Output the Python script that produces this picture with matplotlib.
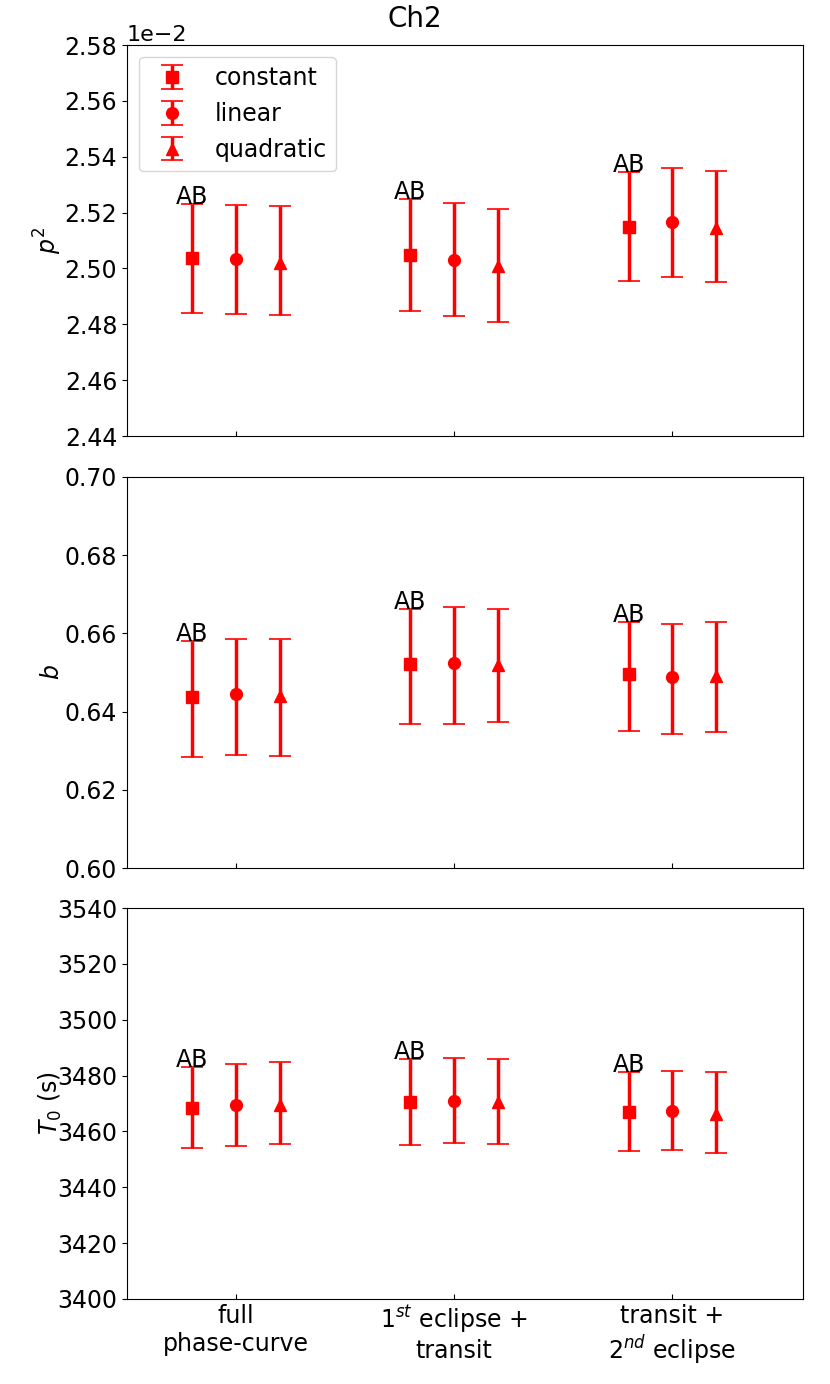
import numpy as np
import matplotlib
matplotlib.use("Agg")
import matplotlib.pyplot as plt

# ---- data ----
groups = ["full\nphase-curve", "1$^{st}$ eclipse +\ntransit", "transit +\n2$^{nd}$ eclipse"]
models = ["constant", "linear", "quadratic"]
markers = ["s", "o", "^"]
offsets = [-0.2, 0.0, 0.2]

p2_constant = [0.025036, 0.025048, 0.025150]
p2_constant_lo = [0.0001948, 0.0002005, 0.0001933]
p2_constant_hi = [0.0001933, 0.0002005, 0.0001969]
p2_linear = [0.025033, 0.025030, 0.025166]
p2_linear_lo = [0.0001948, 0.0002005, 0.0001980]
p2_linear_hi = [0.0001944, 0.0002051, 0.0001944]
p2_quadratic = [0.025021, 0.025009, 0.025145]
p2_quadratic_lo = [0.0001883, 0.0002005, 0.0001933]
p2_quadratic_hi = [0.0002019, 0.0002041, 0.0002041]

b_constant = [0.6437, 0.6522, 0.6497]
b_constant_lo = [0.01538, 0.01538, 0.01472]
b_constant_hi = [0.01436, 0.01410, 0.01323]
b_linear = [0.6444, 0.6525, 0.6489]
b_linear_lo = [0.01556, 0.01564, 0.01462]
b_linear_hi = [0.01428, 0.01426, 0.01359]
b_quadratic = [0.6439, 0.6520, 0.6491]
b_quadratic_lo = [0.01528, 0.01472, 0.01436]
b_quadratic_hi = [0.01454, 0.01436, 0.01385]

t0_constant = [3468.5, 3470.5, 3467.1]
t0_constant_lo = [14.4, 15.4, 14.1]
t0_constant_hi = [14.5, 15.4, 14.3]
t0_linear = [3469.6, 3470.9, 3467.4]
t0_linear_lo = [14.7, 15.1, 14.1]
t0_linear_hi = [14.6, 15.3, 14.3]
t0_quadratic = [3469.6, 3470.4, 3466.4]
t0_quadratic_lo = [14.1, 15.0, 14.0]
t0_quadratic_hi = [15.2, 15.5, 14.8]

ylabels = ["$p^2$", "$b$", "$T_0$ (s)"]
ylims = [(0.0244, 0.0258), (0.60, 0.70), (3400, 3540)]
ysteps = [0.0002, 0.02, 20]

panels = [
    [(p2_constant, p2_constant_lo, p2_constant_hi),
     (p2_linear, p2_linear_lo, p2_linear_hi),
     (p2_quadratic, p2_quadratic_lo, p2_quadratic_hi)],
    [(b_constant, b_constant_lo, b_constant_hi),
     (b_linear, b_linear_lo, b_linear_hi),
     (b_quadratic, b_quadratic_lo, b_quadratic_hi)],
    [(t0_constant, t0_constant_lo, t0_constant_hi),
     (t0_linear, t0_linear_lo, t0_linear_hi),
     (t0_quadratic, t0_quadratic_lo, t0_quadratic_hi)],
]

FS = 17
plt.rcParams["font.size"] = FS

W, H = 830, 1384
fig = plt.figure(figsize=(W / 100, H / 100), dpi=100)

left, right = 127 / W, 803 / W
tops = [45, 477, 908]
ph = 391
x = np.arange(len(groups))

axes = []
for i, top in enumerate(tops):
    ax = fig.add_axes([left, 1 - (top + ph) / H, right - left, ph / H])
    axes.append(ax)
    for j, (vals, lo, hi) in enumerate(panels[i]):
        ax.errorbar(x + offsets[j], vals, yerr=[lo, hi], fmt=markers[j],
                    color="red", ms=8.5, elinewidth=2.5, capsize=8,
                    capthick=1.2, label=models[j])
    cvals, clo, chi = panels[i][0]
    for k in range(len(groups)):
        ax.text(x[k] + offsets[0], cvals[k] + chi[k], "AB", ha="center",
                va="baseline", fontsize=FS)
    lo_, hi_ = ylims[i]
    ax.set_ylim(lo_, hi_)
    ax.set_yticks(np.arange(lo_, hi_ + ysteps[i] / 2, ysteps[i]))
    ax.set_xlim(-0.5, 2.6)
    ax.set_xticks(x)
    ax.tick_params(axis="x", direction="in", labelsize=FS)
    ax.tick_params(axis="y", labelsize=FS)
    ax.set_ylabel(ylabels[i], fontsize=FS)
    if i < 2:
        ax.set_xticklabels([])
    else:
        ax.set_xticklabels(groups)

axes[0].ticklabel_format(axis="y", style="sci", scilimits=(0, 0))
axes[0].yaxis.get_offset_text().set_fontsize(16)
axes[0].legend(loc="upper left", fontsize=FS)
for ax in axes:
    ax.yaxis.set_label_coords(-0.093, 0.5)

fig.suptitle("Ch2", fontsize=20, x=0.5, y=1 - 19 / H, va="center")

fig.savefig("out.png", dpi=100)
